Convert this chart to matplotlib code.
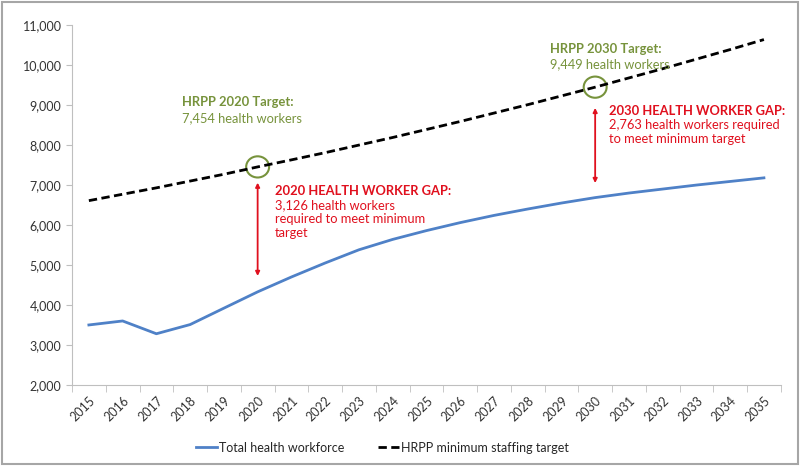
import matplotlib.pyplot as plt
from matplotlib.patches import Ellipse, Rectangle
from matplotlib.ticker import FuncFormatter, FixedLocator

years = list(range(2015, 2036))
workforce = [3500, 3600, 3280, 3510, 3920, 4328, 4700, 5050, 5380, 5640, 5860,
             6060, 6240, 6400, 6550, 6686, 6800, 6900, 7000, 7090, 7180]
target = [6610, 6770, 6930, 7100, 7270, 7454, 7630, 7810, 8000, 8190, 8390,
          8590, 8800, 9010, 9230, 9449, 9680, 9910, 10150, 10390, 10640]

green = "#77933C"
red = "#E0101E"
blue = "#4F81C7"
grey = "#BFBFBF"

plt.rcParams["font.family"] = ["Lato", "DejaVu Sans"]

fig = plt.figure(figsize=(8, 4.66), dpi=100)
ax = fig.add_axes([0.09, 0.174, 0.886, 0.772])

x = list(range(len(years)))
ax.plot(x, workforce, color=blue, lw=2, label="Total health workforce")
ax.plot(x, target, color="black", lw=2, ls=(0, (3, 1.6)), label="HRPP minimum staffing target")

ax.set_xlim(-0.5, len(years) - 0.5)
ax.set_ylim(2000, 11000)
ax.set_yticks(range(2000, 11001, 1000))
ax.yaxis.set_major_formatter(FuncFormatter(lambda v, p: "{:,.0f}".format(v)))
ax.set_xticks(x)
ax.set_xticklabels([str(y) for y in years], rotation=45, ha="right", rotation_mode="anchor")
ax.xaxis.set_minor_locator(FixedLocator([i - 0.5 for i in range(len(years) + 1)]))
ax.tick_params(axis="x", which="major", length=0, pad=7, labelsize=9, colors="#333333")
ax.tick_params(axis="x", which="minor", length=5, color=grey, direction="out")
ax.tick_params(axis="y", length=4, color=grey, labelsize=9, colors="#333333")
for s in ["top", "right"]:
    ax.spines[s].set_visible(False)
for s in ["left", "bottom"]:
    ax.spines[s].set_color(grey)

i20 = years.index(2020)
i30 = years.index(2030)

# target circles
ax.add_patch(Ellipse((i20, target[i20]), 0.68, 530, fill=False, ec=green, lw=1.5))
ax.add_patch(Ellipse((i30, target[i30]), 0.68, 530, fill=False, ec=green, lw=1.5))

fs = 9.3
ax.text(2.76, 9220, "HRPP 2020 Target:", color=green, fontsize=fs, fontweight="bold", va="top")
ax.text(2.76, 8820, "7,454 health workers", color=green, fontsize=fs, va="top")
ax.text(13.66, 10545, "HRPP 2030 Target:", color=green, fontsize=fs, fontweight="bold", va="top")
ax.text(13.66, 10170, "9,449 health workers", color=green, fontsize=fs, va="top")

# gap arrows
ax.annotate("", xy=(i20, 4725), xytext=(i20, 7060),
            arrowprops=dict(arrowstyle="<|-|>", color=red, lw=1.3, mutation_scale=6,
                            shrinkA=0, shrinkB=0))
ax.annotate("", xy=(i30, 7050), xytext=(i30, 8930),
            arrowprops=dict(arrowstyle="<|-|>", color=red, lw=1.3, mutation_scale=6,
                            shrinkA=0, shrinkB=0))

ax.text(5.51, 6995, "2020 HEALTH WORKER GAP:", color=red, fontsize=fs, fontweight="bold", va="top")
ax.text(5.51, 6640, "3,126 health workers\nrequired to meet minimum\ntarget", color=red,
        fontsize=fs, va="top", linespacing=1.2)
ax.text(15.42, 8995, "2030 HEALTH WORKER GAP:", color=red, fontsize=fs, fontweight="bold", va="top")
ax.text(15.42, 8640, "2,763 health workers required\nto meet minimum target", color=red,
        fontsize=fs, va="top", linespacing=1.2)

fig.legend(loc="center", bbox_to_anchor=(0.478, 0.039), ncol=2, frameon=False,
           fontsize=9, handlelength=1.7, handletextpad=0.15, columnspacing=2.7,
           labelcolor="#262626")

fig.add_artist(Rectangle((0.003, 0.004), 0.994, 0.992, transform=fig.transFigure,
                         fill=False, ec="#A6A6A6", lw=1.5))

fig.savefig("out.png", dpi=100)
